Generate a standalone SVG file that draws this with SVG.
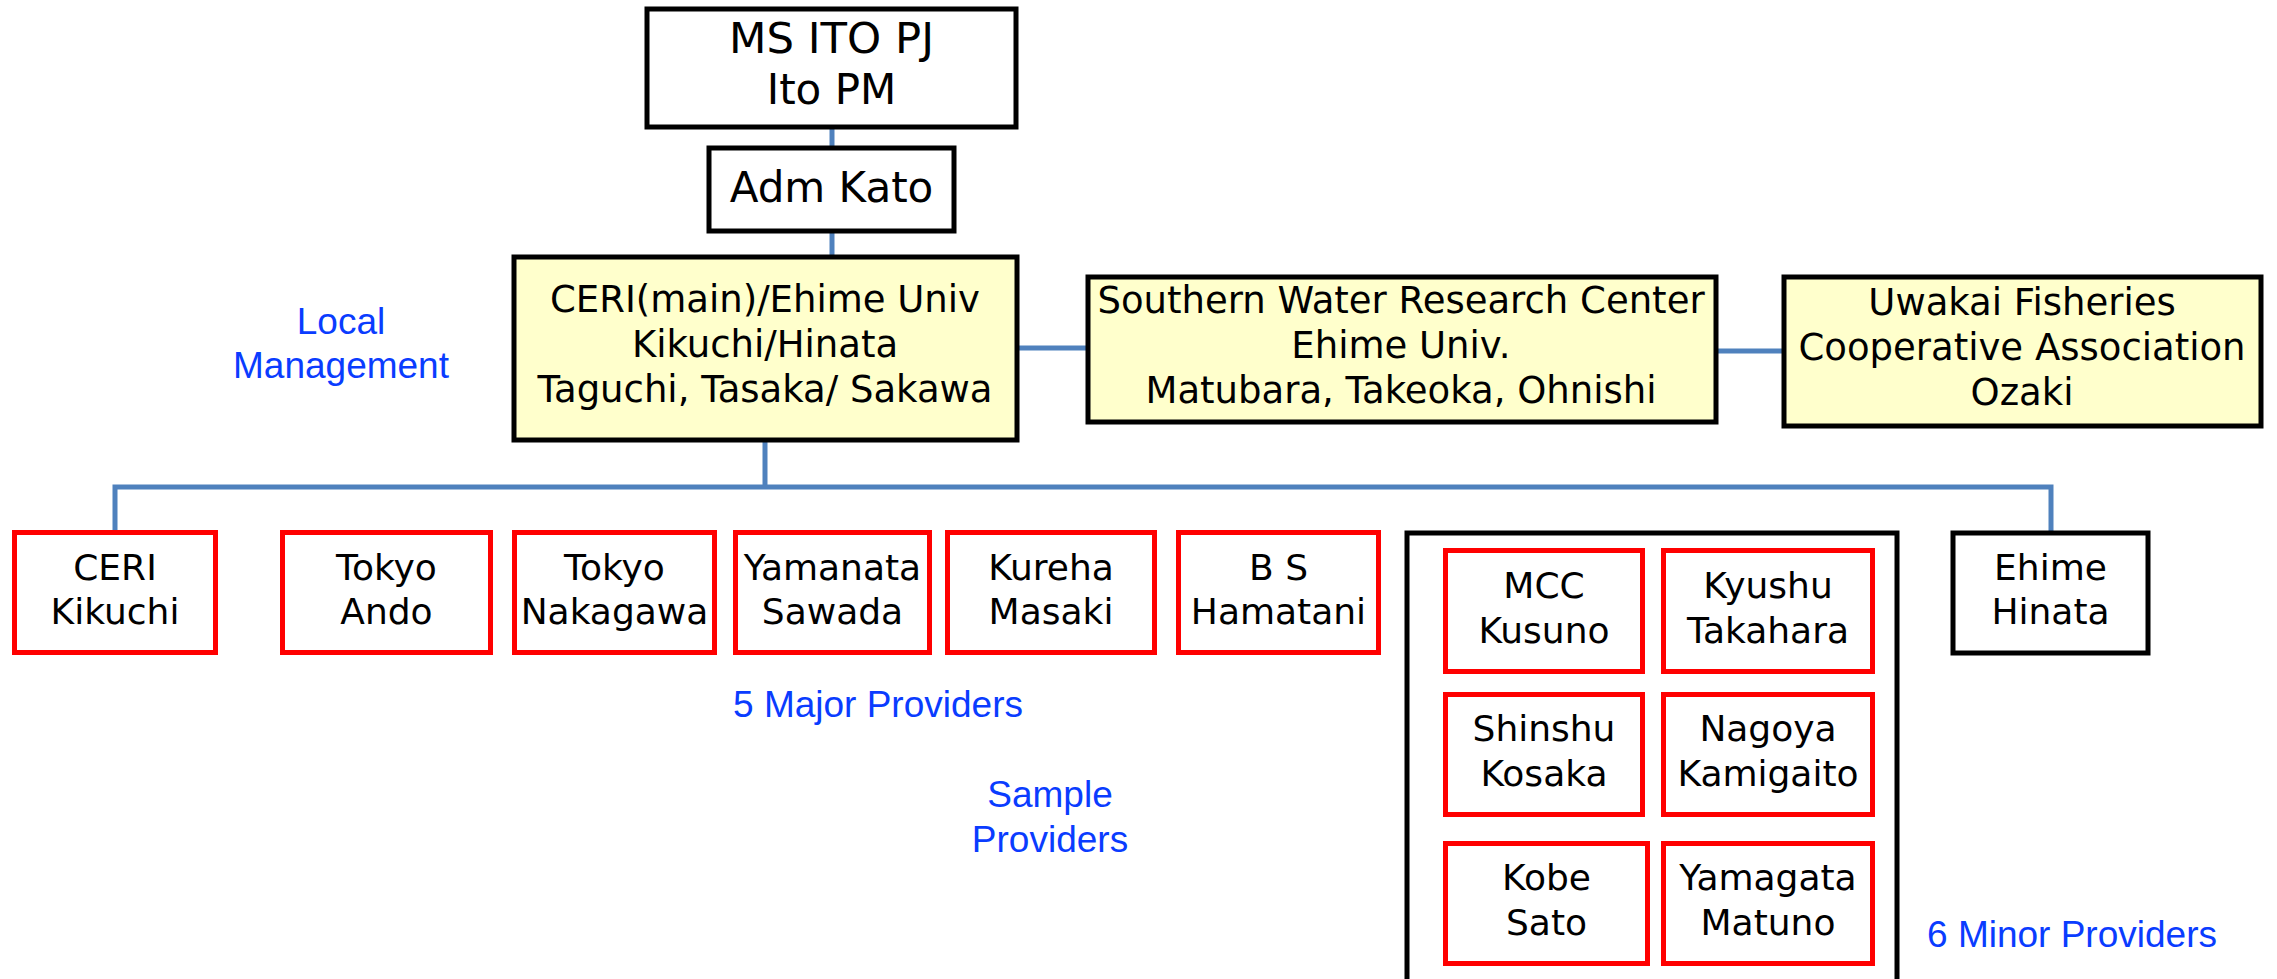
<svg xmlns="http://www.w3.org/2000/svg" width="2277" height="979" viewBox="0 0 2277 979">
<style>
.bk{fill:#fff;stroke:#000;stroke-width:5}
.yl{fill:#ffffcc;stroke:#000;stroke-width:5}
.rd{fill:#fff;stroke:#ff0000;stroke-width:5}
.t{font-family:"DejaVu Sans",Verdana,sans-serif;fill:#000;text-anchor:middle}
.t42{font-size:42px}
.t37{font-size:37px}
.t36{font-size:36px}
.lb{font-family:"Liberation Sans",Arial,sans-serif;font-size:37px;fill:#0a3cff;text-anchor:middle}
.cn{fill:none;stroke:#4f81bd;stroke-width:5}
</style>
<rect width="2277" height="979" fill="#fff"/>
<g id="connectors">
<line class="cn" x1="832" y1="127" x2="832" y2="149"/>
<line class="cn" x1="832" y1="231" x2="832" y2="258"/>
<line class="cn" x1="1017" y1="348" x2="1088" y2="348"/>
<line class="cn" x1="1716" y1="351" x2="1784" y2="351"/>
<line class="cn" x1="765" y1="440" x2="765" y2="487"/>
<path class="cn" d="M115,532 V487 H2051 V533"/>
</g>
<g id="ms-ito-pj"><rect class="bk" x="647" y="9" width="369" height="118"/>
<text class="t t42" x="831.5" y="53" textLength="205" lengthAdjust="spacingAndGlyphs">MS ITO PJ</text><text class="t t42" x="831.5" y="104">Ito PM</text></g>
<g id="adm-kato"><rect class="bk" x="709" y="148" width="245" height="83"/>
<text class="t t42" x="831.5" y="202">Adm Kato</text></g>
<g id="ceri-main"><rect class="yl" x="514" y="257" width="503" height="183"/>
<text class="t t37" x="765" y="312">CERI(main)/Ehime Univ</text>
<text class="t t37" x="765" y="357">Kikuchi/Hinata</text>
<text class="t t37" x="765" y="402">Taguchi, Tasaka/ Sakawa</text></g>
<g id="southern"><rect class="yl" x="1088" y="277" width="628" height="145"/>
<text class="t t37" x="1401" y="313">Southern Water Research Center</text>
<text class="t t37" x="1401" y="358">Ehime Univ.</text>
<text class="t t37" x="1401" y="403">Matubara, Takeoka, Ohnishi</text></g>
<g id="uwakai"><rect class="yl" x="1784" y="277" width="477" height="149"/>
<text class="t t37" x="2022" y="315">Uwakai Fisheries</text>
<text class="t t37" x="2022" y="360">Cooperative Association</text>
<text class="t t37" x="2022" y="405">Ozaki</text></g>
<g id="label-local"><text class="lb" x="341" y="334">Local</text><text class="lb" x="341" y="378">Management</text></g>
<g id="ceri-kikuchi"><rect class="rd" x="14.5" y="532.5" width="201" height="120"/>
<text class="t t36" x="115" y="580">CERI</text><text class="t t36" x="115" y="624">Kikuchi</text></g>
<g id="tokyo-ando"><rect class="rd" x="282.5" y="532.5" width="208" height="120"/>
<text class="t t36" x="386.5" y="580">Tokyo</text><text class="t t36" x="386.5" y="624">Ando</text></g>
<g id="tokyo-nakagawa"><rect class="rd" x="514.5" y="532.5" width="200" height="120"/>
<text class="t t36" x="614.5" y="580">Tokyo</text><text class="t t36" x="614.5" y="624">Nakagawa</text></g>
<g id="yamanata-sawada"><rect class="rd" x="735.5" y="532.5" width="194" height="120"/>
<text class="t t36" x="832.5" y="580">Yamanata</text><text class="t t36" x="832.5" y="624">Sawada</text></g>
<g id="kureha-masaki"><rect class="rd" x="947.5" y="532.5" width="207" height="120"/>
<text class="t t36" x="1051" y="580">Kureha</text><text class="t t36" x="1051" y="624">Masaki</text></g>
<g id="bs-hamatani"><rect class="rd" x="1178.5" y="532.5" width="200" height="120"/>
<text class="t t36" x="1278.5" y="580">B S</text><text class="t t36" x="1278.5" y="624">Hamatani</text></g>
<g id="ehime-hinata"><rect class="bk" x="1953" y="533" width="195" height="120"/>
<text class="t t36" x="2050.5" y="580">Ehime</text><text class="t t36" x="2050.5" y="624">Hinata</text></g>
<g id="minor-group"><rect class="bk" x="1407" y="533" width="490" height="500"/></g>
<g id="mcc-kusuno"><rect class="rd" x="1445.5" y="550.5" width="197" height="121"/>
<text class="t t36" x="1544" y="598">MCC</text><text class="t t36" x="1544" y="643">Kusuno</text></g>
<g id="kyushu-takahara"><rect class="rd" x="1663.5" y="550.5" width="209" height="121"/>
<text class="t t36" x="1768" y="598">Kyushu</text><text class="t t36" x="1768" y="643">Takahara</text></g>
<g id="shinshu-kosaka"><rect class="rd" x="1445.5" y="694.5" width="197" height="120"/>
<text class="t t36" x="1544" y="741">Shinshu</text><text class="t t36" x="1544" y="786">Kosaka</text></g>
<g id="nagoya-kamigaito"><rect class="rd" x="1663.5" y="694.5" width="209" height="120"/>
<text class="t t36" x="1768" y="741">Nagoya</text><text class="t t36" x="1768" y="786">Kamigaito</text></g>
<g id="kobe-sato"><rect class="rd" x="1445.5" y="843.5" width="202" height="120"/>
<text class="t t36" x="1546.5" y="890">Kobe</text><text class="t t36" x="1546.5" y="935">Sato</text></g>
<g id="yamagata-matuno"><rect class="rd" x="1663.5" y="843.5" width="209" height="120"/>
<text class="t t36" x="1768" y="890">Yamagata</text><text class="t t36" x="1768" y="935">Matuno</text></g>
<g id="label-major"><text class="lb" x="878" y="717">5 Major Providers</text></g>
<g id="label-sample"><text class="lb" x="1050" y="807">Sample</text><text class="lb" x="1050" y="852">Providers</text></g>
<g id="label-minor"><text class="lb" x="2072" y="947">6 Minor Providers</text></g>
</svg>
